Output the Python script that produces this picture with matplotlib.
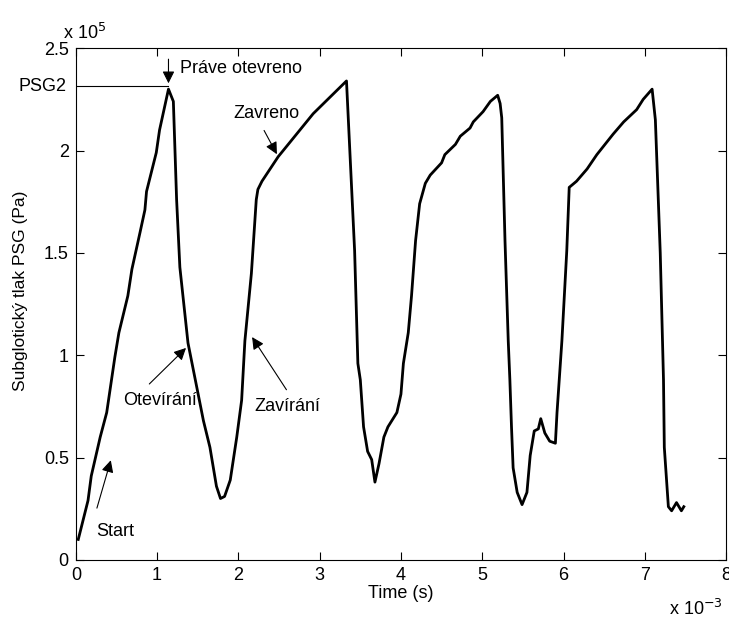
import numpy as np
from matplotlib import pyplot as plt

plt.rcParams['font.family'] = ['Liberation Sans', 'DejaVu Sans']
plt.rcParams['font.size'] = 13

# time in ms (x 10^-3 s), pressure in x 10^5 Pa
t = [0.03, 0.15, 0.19, 0.30, 0.38, 0.48, 0.53, 0.64, 0.69, 0.79, 0.85, 0.87, 0.99, 1.03, 1.14,
     1.20, 1.24, 1.28, 1.38, 1.46, 1.57, 1.65, 1.73, 1.78, 1.83, 1.90, 1.98, 2.04, 2.08, 2.16,
     2.22, 2.24, 2.29, 2.49, 2.92, 3.33,
     3.43, 3.47, 3.50, 3.54, 3.59, 3.64, 3.68, 3.73, 3.79, 3.84, 3.95, 4.00, 4.03, 4.09, 4.13,
     4.18, 4.23, 4.30, 4.36, 4.50, 4.54, 4.67, 4.73, 4.85, 4.89, 5.01, 5.10, 5.19, 5.22, 5.24,
     5.28, 5.32, 5.34, 5.36, 5.38, 5.43, 5.49, 5.55, 5.59, 5.64, 5.69, 5.72, 5.77, 5.83, 5.90,
     5.92, 5.98, 6.04, 6.07, 6.16, 6.29, 6.41, 6.61, 6.74, 6.90, 6.98, 7.09, 7.13, 7.19, 7.23,
     7.24, 7.29, 7.33, 7.39, 7.45, 7.48]
p = [0.10, 0.29, 0.41, 0.60, 0.72, 0.99, 1.11, 1.29, 1.42, 1.60, 1.71, 1.80, 1.99, 2.10, 2.30,
     2.24, 1.76, 1.43, 1.06, 0.90, 0.68, 0.55, 0.36, 0.30, 0.31, 0.39, 0.60, 0.78, 1.07, 1.40,
     1.76, 1.81, 1.85, 1.97, 2.18, 2.34,
     1.51, 0.96, 0.88, 0.65, 0.53, 0.49, 0.38, 0.47, 0.60, 0.65, 0.72, 0.81, 0.96, 1.11, 1.29,
     1.56, 1.74, 1.84, 1.88, 1.94, 1.98, 2.03, 2.07, 2.11, 2.14, 2.19, 2.24, 2.27, 2.23, 2.16,
     1.56, 1.07, 0.88, 0.65, 0.45, 0.33, 0.27, 0.33, 0.51, 0.63, 0.64, 0.69, 0.62, 0.58, 0.57,
     0.72, 1.07, 1.51, 1.82, 1.85, 1.91, 1.98, 2.08, 2.14, 2.20, 2.25, 2.30, 2.15, 1.50, 0.88,
     0.55, 0.26, 0.24, 0.28, 0.24, 0.26]

psg2 = 2.315

fig = plt.figure(figsize=(7.29, 6.18), dpi=100)
ax = fig.add_axes([0.104, 0.094, 0.892, 0.828])
ax.plot(t, p, 'k', lw=2)
ax.plot([0, 1.14], [psg2, psg2], 'k', lw=0.8)

ax.set_xlim(0, 8)
ax.set_ylim(0, 2.5)
ax.set_xticks(np.arange(0, 9, 1))
ax.set_yticks([0, 0.5, 1, 1.5, 2, 2.5])
ax.set_yticklabels(['0', '0.5', '1', '1.5', '2', '2.5'])
ax.tick_params(direction='in', top=True, right=True, length=6, labelsize=13, pad=5)
ax.set_xlabel('Time (s)', labelpad=1)
ax.set_ylabel('Subglotický tlak PSG (Pa)', fontsize=12.5)
ax.yaxis.set_label_coords(-0.074, 0.525)

ax.text(-0.02, 1.01, r'x 10$^{5}$', transform=ax.transAxes, ha='left', va='bottom')
ax.text(0.995, -0.076, r'x 10$^{-3}$', transform=ax.transAxes, ha='right', va='top')
ax.text(-0.014, psg2, 'PSG2', transform=ax.get_yaxis_transform(), ha='right', va='center')

arr = dict(arrowstyle='-|>', color='k', lw=0.8, mutation_scale=18)
ax.annotate('', xy=(1.14, psg2), xytext=(1.14, 2.46), arrowprops=arr)
ax.text(1.28, 2.40, 'Práve otevreno', ha='left', va='center')
ax.annotate('', xy=(2.49, 1.97), xytext=(2.30, 2.11), arrowprops=arr)
ax.text(2.34, 2.18, 'Zavreno', ha='center', va='center')
ax.annotate('', xy=(1.38, 1.045), xytext=(0.88, 0.85), arrowprops=arr)
ax.text(1.03, 0.78, 'Otevírání', ha='center', va='center')
ax.annotate('', xy=(2.15, 1.10), xytext=(2.61, 0.82), arrowprops=arr)
ax.text(2.60, 0.75, 'Zavírání', ha='center', va='center')
ax.annotate('', xy=(0.44, 0.50), xytext=(0.25, 0.24), arrowprops=arr)
ax.text(0.48, 0.14, 'Start', ha='center', va='center')

plt.savefig('out.png', dpi=100)
